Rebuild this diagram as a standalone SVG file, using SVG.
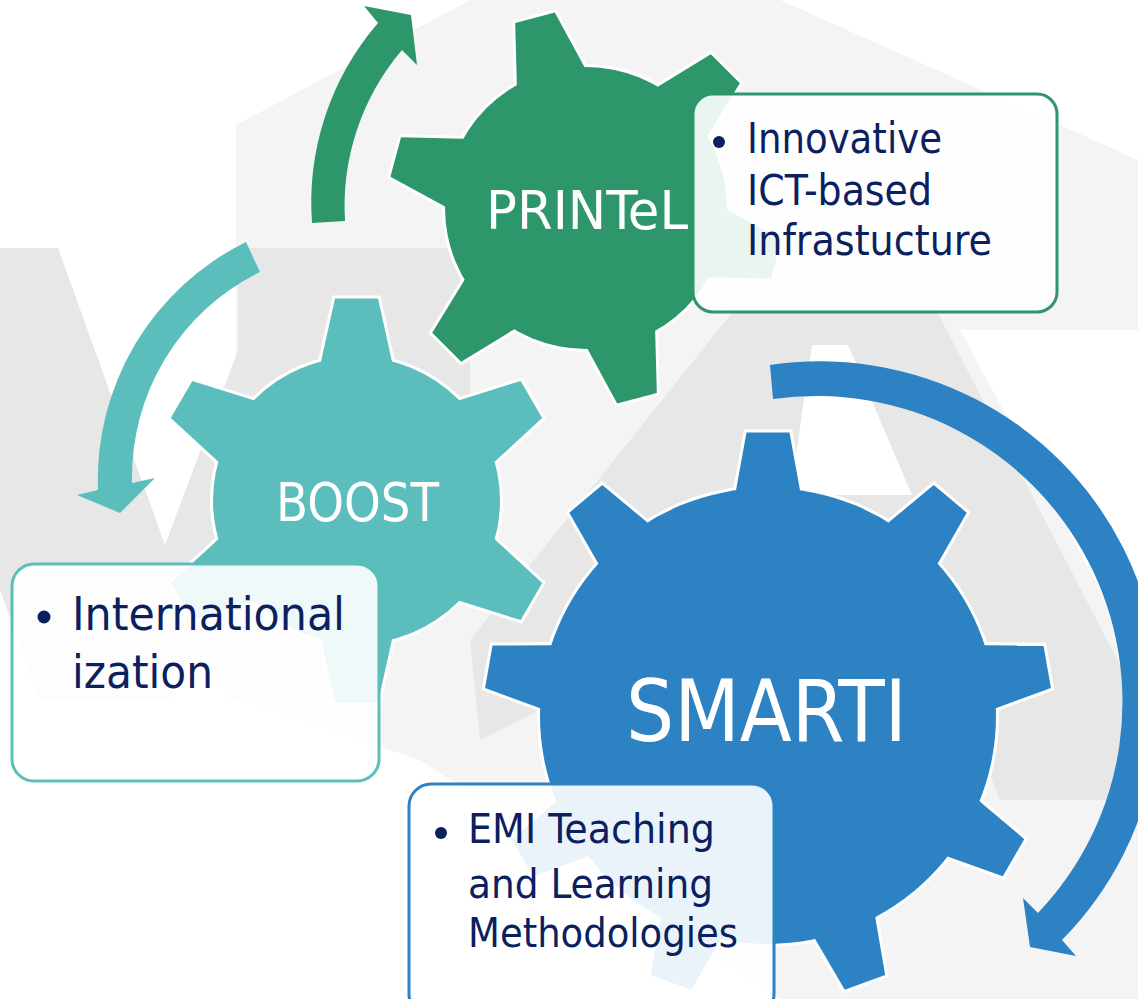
<svg xmlns="http://www.w3.org/2000/svg" xmlns:xlink="http://www.w3.org/1999/xlink" width="1138" height="999" viewBox="0 0 1138 999">
<style>
.wm-light{fill:#f4f4f4}
.wm-dark{fill:#e7e7e7}
.wm-white{fill:#ffffff}
.outline{stroke:#ffffff;stroke-width:6;stroke-linejoin:miter}
.green{fill:#2e966b}
.teal{fill:#5cbebc}
.blue{fill:#2c82c3}
.box{fill:#ffffff;fill-opacity:0.9;stroke-width:3}
.bt{font-family:"DejaVu Sans Condensed","DejaVu Sans",sans-serif;font-stretch:condensed;fill:#0c1f5f}
.gl{font-family:"DejaVu Sans Condensed","DejaVu Sans",sans-serif;font-stretch:condensed;fill:#ffffff;text-anchor:middle}
.bullet{fill:#0c1f5f}
</style>
<defs>
<polygon id="tooth-p" points="-35,-136.6 -20.5,-197 20.5,-197 35,-136.6 35,-110 -35,-110"/>
<g id="shape-p">
<circle r="141"/>
<use xlink:href="#tooth-p" transform="rotate(-15)"/>
<use xlink:href="#tooth-p" transform="rotate(45)"/>
<use xlink:href="#tooth-p" transform="rotate(105)"/>
<use xlink:href="#tooth-p" transform="rotate(165)"/>
<use xlink:href="#tooth-p" transform="rotate(225)"/>
<use xlink:href="#tooth-p" transform="rotate(285)"/>
</g>
<polygon id="tooth-b" points="-35.5,-139 -21.5,-202 21.5,-202 35.5,-139 35.5,-110 -35.5,-110"/>
<g id="shape-b">
<circle r="143.5"/>
<use xlink:href="#tooth-b"/>
<use xlink:href="#tooth-b" transform="rotate(60)"/>
<use xlink:href="#tooth-b" transform="rotate(120)"/>
<use xlink:href="#tooth-b" transform="rotate(180)"/>
<use xlink:href="#tooth-b" transform="rotate(240)"/>
<use xlink:href="#tooth-b" transform="rotate(300)"/>
</g>
<polygon id="tooth-s" points="-32,-225.7 -21.5,-283.5 21.5,-283.5 32,-225.7 32,-190 -32,-190"/>
<g id="shape-s">
<circle r="228"/>
<use xlink:href="#tooth-s"/>
<use xlink:href="#tooth-s" transform="rotate(40)"/>
<use xlink:href="#tooth-s" transform="rotate(80)"/>
<use xlink:href="#tooth-s" transform="rotate(120)"/>
<use xlink:href="#tooth-s" transform="rotate(160)"/>
<use xlink:href="#tooth-s" transform="rotate(200)"/>
<use xlink:href="#tooth-s" transform="rotate(240)"/>
<use xlink:href="#tooth-s" transform="rotate(280)"/>
<use xlink:href="#tooth-s" transform="rotate(320)"/>
</g>
</defs>
<rect width="1138" height="999" fill="#ffffff"/>
<g id="watermark">
<polygon class="wm-light" points="236,125 470,0 780,0 1138,160 1138,999 780,999 420,760 236,700"/>
<polygon class="wm-white" points="960,330 1138,330 1138,660"/>
<polygon class="wm-dark" points="0,248 58,248 165,545 238,350 238,248 470,248 470,420 360,700 230,700 200,640 170,700 40,700 0,590"/>
<polygon class="wm-dark" points="790,240 900,240 1138,700 1138,800 1000,800 960,700 560,700 480,740 470,640"/>
<polygon class="wm-white" points="812,345 848,345 912,495 790,495"/>
</g>
<g id="connectors">
<path id="arrow-printel" class="green" d="M312,223 A275,275 0 0 1 378,23 L364,6 L411,15 L417,65 L402,50 A241,241 0 0 0 345,221 Z"/>
<path id="arrow-boost" class="teal" d="M246,242 A265,265 0 0 0 98,490 L77,495 L120,513 L155,478 L132,483 A229,229 0 0 1 260,272 Z"/>
<path id="arrow-smarti" class="blue" d="M770,365 A340,340 0 0 1 1062,940 L1076,956 L1030,947 L1023,898 L1038,913 A306,306 0 0 0 773,399 Z"/>
</g>
<g id="gear-printel">
<use xlink:href="#shape-p" class="outline" transform="translate(586,208)"/>
<use xlink:href="#shape-p" class="green" transform="translate(586,208)"/>
<text class="gl" x="587" y="229" font-size="54" textLength="202" lengthAdjust="spacingAndGlyphs">PRINTeL</text>
</g>
<g id="gear-boost">
<use xlink:href="#shape-b" class="outline" transform="translate(356.5,500.5)"/>
<use xlink:href="#shape-b" class="teal" transform="translate(356.5,500.5)"/>
<text class="gl" x="357.5" y="521" font-size="53" textLength="163" lengthAdjust="spacingAndGlyphs">BOOST</text>
</g>
<g id="gear-smarti">
<use xlink:href="#shape-s" class="outline" transform="translate(768,716)"/>
<use xlink:href="#shape-s" class="blue" transform="translate(768,716)"/>
<text class="gl" x="766.5" y="741" font-size="85" textLength="281" lengthAdjust="spacingAndGlyphs">SMARTI</text>
</g>
<g id="box-printel">
<rect class="box" x="693" y="94" width="364" height="218" rx="20" stroke="#2e966b"/>
<circle class="bullet" cx="719" cy="142" r="6"/>
<text class="bt" font-size="42"><tspan x="747" y="153" textLength="195" lengthAdjust="spacingAndGlyphs">Innovative</tspan><tspan x="747" y="205" textLength="185" lengthAdjust="spacingAndGlyphs">ICT-based</tspan><tspan x="747" y="255" textLength="245" lengthAdjust="spacingAndGlyphs">Infrastucture</tspan></text>
</g>
<g id="box-boost">
<rect class="box" x="12" y="564" width="367" height="217" rx="22" stroke="#5cbebc"/>
<circle class="bullet" cx="44" cy="617" r="6.5"/>
<text class="bt" font-size="47"><tspan x="72" y="630" textLength="273" lengthAdjust="spacingAndGlyphs">International</tspan><tspan x="72" y="688" textLength="141" lengthAdjust="spacingAndGlyphs">ization</tspan></text>
</g>
<g id="box-smarti">
<rect class="box" x="409" y="784" width="365" height="232" rx="22" stroke="#2c82c3"/>
<circle class="bullet" cx="441" cy="833" r="6"/>
<text class="bt" font-size="40"><tspan x="468" y="843" textLength="247" lengthAdjust="spacingAndGlyphs">EMI Teaching</tspan><tspan x="468" y="898" textLength="245" lengthAdjust="spacingAndGlyphs">and Learning</tspan><tspan x="468" y="947" textLength="270" lengthAdjust="spacingAndGlyphs">Methodologies</tspan></text>
</g>
</svg>
